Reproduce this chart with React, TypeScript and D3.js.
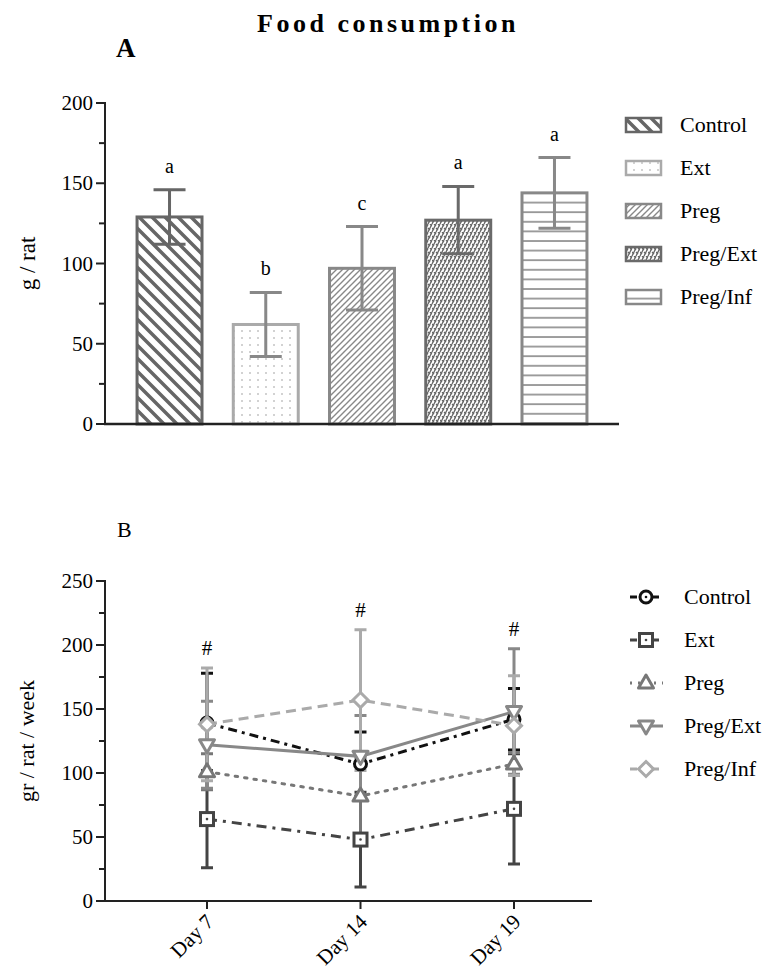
import React, { useEffect, useRef } from 'react';
import * as d3 from 'd3';

// Panel A: total food consumption per group
const groups = ['Control', 'Ext', 'Preg', 'Preg/Ext', 'Preg/Inf'];
const barMeans = [129, 62, 97, 127, 144];
const barErrors = [17, 20, 26, 21, 22];
const barLetters = ['a', 'b', 'c', 'a', 'a'];

// Panel B: weekly consumption
const days = ['Day 7', 'Day 14', 'Day 19'];
const controlMeans = [139, 107, 142];
const controlErrors = [39, 25, 24];
const extMeans = [64, 48, 72];
const extErrors = [38, 37, 43];
const pregMeans = [101, 82, 107];
const pregErrors = [14, 30, 9];
const pregExtMeans = [122, 113, 148];
const pregExtErrors = [34, 32, 49];
const pregInfMeans = [138, 157, 137];
const pregInfErrors = [44, 55, 39];
const dayMarks = ['#', '#', '#'];

const FONT = '"Liberation Serif", "Times New Roman", serif';

function App() {
  const svgRef = useRef<SVGSVGElement>(null);

  useEffect(() => {
    if (!svgRef.current) return;
    const svg = d3.select(svgRef.current);
    svg.selectAll('*').remove();
    svg.style('font-family', FONT);

    // ---------- patterns
    const defs = svg.append('defs');
    const pat = (id: string, w: number, h: number) =>
      defs.append('pattern').attr('id', id).attr('patternUnits', 'userSpaceOnUse')
        .attr('width', w).attr('height', h);

    pat('p-control', 13, 13).append('path')
      .attr('d', 'M0,0L13,13M-4,9L4,17M9,-4L17,4')
      .attr('stroke', '#666').attr('stroke-width', 3.5);
    const pe = pat('p-ext', 8, 7);
    pe.append('circle').attr('cx', 2).attr('cy', 2).attr('r', 0.8).attr('fill', '#999');
    pat('p-preg', 6, 6).append('path')
      .attr('d', 'M0,6L6,0M-1,1L1,-1M5,7L7,5')
      .attr('stroke', '#888').attr('stroke-width', 1.4);
    const pp = pat('p-pregext', 8, 8);
    pp.append('path').attr('d', 'M0,8L4,0M4,8L8,0M-1,2L0,0M8,8L9,6')
      .attr('stroke', '#666').attr('stroke-width', 1.3);
    pp.append('path').attr('d', 'M0,4L2,6M4,4L6,6M2,0L4,2M6,0L8,2')
      .attr('stroke', '#666').attr('stroke-width', 1.3);
    pat('p-preginf', 10, 9.6).append('path')
      .attr('d', 'M0,1L10,1')
      .attr('stroke', '#888').attr('stroke-width', 1.6);

    const barFill = ['url(#p-control)', 'url(#p-ext)', 'url(#p-preg)', 'url(#p-pregext)', 'url(#p-preginf)'];
    const barStroke = ['#666', '#aaa', '#888', '#6a6a6a', '#888'];

    // ---------- titles
    svg.append('text').attr('x', 388).attr('y', 32).attr('text-anchor', 'middle')
      .attr('font-weight', 'bold').attr('font-size', 26).attr('letter-spacing', 3.5)
      .text('Food consumption');
    svg.append('text').attr('x', 116).attr('y', 57).attr('font-weight', 'bold')
      .attr('font-size', 27).text('A');
    svg.append('text').attr('x', 117).attr('y', 537).attr('font-size', 22).text('B');

    // ---------- panel A
    const xA = d3.scaleBand<string>().domain(groups).range([105, 619])
      .paddingInner(0.325).paddingOuter(0.333);
    const yA = d3.scaleLinear().domain([0, 200]).range([424, 103]);

    const gA = svg.append('g');
    gA.selectAll('rect.bar').data(groups).join('rect')
      .attr('x', d => xA(d)!)
      .attr('y', (d, i) => yA(barMeans[i]))
      .attr('width', xA.bandwidth())
      .attr('height', (d, i) => yA(0) - yA(barMeans[i]))
      .attr('fill', (d, i) => barFill[i])
      .attr('stroke', (d, i) => barStroke[i])
      .attr('stroke-width', 3);

    groups.forEach((g, i) => {
      const cx = xA(g)! + xA.bandwidth() / 2;
      const top = yA(barMeans[i] + barErrors[i]);
      const bot = yA(barMeans[i] - barErrors[i]);
      const col = barStroke[i] === '#aaa' ? '#888' : barStroke[i];
      gA.append('path')
        .attr('d', `M${cx},${top}L${cx},${bot}M${cx - 16},${top}L${cx + 16},${top}M${cx - 16},${bot}L${cx + 16},${bot}`)
        .attr('stroke', col).attr('stroke-width', 3).attr('fill', 'none');
      gA.append('text').attr('x', cx).attr('y', top - 17).attr('text-anchor', 'middle')
        .attr('font-size', 20).text(barLetters[i]);
    });

    gA.append('line').attr('x1', 105).attr('x2', 105).attr('y1', yA(200) - 1).attr('y2', yA(0))
      .attr('stroke', '#222').attr('stroke-width', 2);
    d3.range(0, 201, 25).forEach(v => {
      const major = v % 50 === 0;
      gA.append('line').attr('x1', major ? 96 : 99).attr('x2', 105)
        .attr('y1', yA(v)).attr('y2', yA(v)).attr('stroke', '#222').attr('stroke-width', 2);
      if (major) gA.append('text').attr('x', 93).attr('y', yA(v) + 7).attr('text-anchor', 'end')
        .attr('font-size', 21).text(v);
    });
    gA.append('line').attr('x1', 104).attr('x2', 619).attr('y1', yA(0)).attr('y2', yA(0))
      .attr('stroke', '#222').attr('stroke-width', 2.5);
    gA.append('text').attr('transform', `translate(35,${yA(100)}) rotate(-90)`)
      .attr('text-anchor', 'middle').attr('font-size', 23).text('g / rat');

    // legend A
    groups.forEach((g, i) => {
      const y = 125 + i * 43;
      gA.append('rect').attr('x', 626).attr('y', y - 7).attr('width', 35).attr('height', 14)
        .attr('fill', barFill[i]).attr('stroke', barStroke[i]).attr('stroke-width', 2.5);
      gA.append('text').attr('x', 680).attr('y', y + 7).attr('font-size', 22).text(g);
    });

    // ---------- panel B
    const xB = d3.scalePoint<string>().domain(days).range([207, 514]);
    const yB = d3.scaleLinear().domain([0, 250]).range([901, 581]);
    const gB = svg.append('g');

    const series = [
      { name: 'Control', means: controlMeans, errs: controlErrors, color: '#111', dash: '9,5,3,5', sym: 'circle' },
      { name: 'Ext', means: extMeans, errs: extErrors, color: '#444', dash: '10,6,3,6', sym: 'square' },
      { name: 'Preg', means: pregMeans, errs: pregErrors, color: '#777', dash: '2.5,7', sym: 'up' },
      { name: 'Preg/Ext', means: pregExtMeans, errs: pregExtErrors, color: '#888', dash: null, sym: 'down' },
      { name: 'Preg/Inf', means: pregInfMeans, errs: pregInfErrors, color: '#aaa', dash: '10,6', sym: 'diamond' },
    ];

    const drawMarker = (g: any, sym: string, x: number, y: number, color: string) => {
      if (sym === 'circle') {
        g.append('circle').attr('cx', x).attr('cy', y).attr('r', 6).attr('fill', '#fff')
          .attr('stroke', color).attr('stroke-width', 3);
        g.append('circle').attr('cx', x).attr('cy', y).attr('r', 1.3).attr('fill', color);
      } else if (sym === 'square') {
        g.append('rect').attr('x', x - 6.5).attr('y', y - 6.5).attr('width', 13).attr('height', 13)
          .attr('fill', '#fff').attr('stroke', color).attr('stroke-width', 3);
        g.append('circle').attr('cx', x).attr('cy', y).attr('r', 1.3).attr('fill', color);
      } else if (sym === 'up') {
        g.append('path').attr('d', `M${x},${y - 8}L${x + 7.5},${y + 5}L${x - 7.5},${y + 5}Z`)
          .attr('fill', '#fff').attr('stroke', color).attr('stroke-width', 3).attr('stroke-linejoin', 'round');
      } else if (sym === 'down') {
        g.append('path').attr('d', `M${x},${y + 8}L${x + 7.5},${y - 5}L${x - 7.5},${y - 5}Z`)
          .attr('fill', '#fff').attr('stroke', color).attr('stroke-width', 3).attr('stroke-linejoin', 'round');
      } else {
        g.append('path').attr('d', `M${x},${y - 7.5}L${x + 7.5},${y}L${x},${y + 7.5}L${x - 7.5},${y}Z`)
          .attr('fill', '#fff').attr('stroke', color).attr('stroke-width', 3);
      }
    };

    // error bars
    series.forEach(s => {
      days.forEach((d, i) => {
        const cx = xB(d)!;
        const top = yB(s.means[i] + s.errs[i]);
        const bot = yB(s.means[i] - s.errs[i]);
        gB.append('path')
          .attr('d', `M${cx},${top}L${cx},${bot}M${cx - 6},${top}L${cx + 6},${top}M${cx - 6},${bot}L${cx + 6},${bot}`)
          .attr('stroke', s.color).attr('stroke-width', 3).attr('fill', 'none');
      });
    });

    // lines
    const line = d3.line<number>().x((v, i) => xB(days[i])!).y(v => yB(v));
    series.forEach(s => {
      gB.append('path').attr('d', line(s.means)).attr('fill', 'none')
        .attr('stroke', s.color).attr('stroke-width', 3)
        .attr('stroke-linecap', s.sym === 'up' ? 'round' : 'butt')
        .attr('stroke-dasharray', s.dash);
    });
    // markers
    series.forEach(s => {
      days.forEach((d, i) => drawMarker(gB, s.sym, xB(d)!, yB(s.means[i]), s.color));
    });

    // significance marks
    days.forEach((d, i) => {
      const top = d3.max(series, s => s.means[i] + s.errs[i])!;
      gB.append('text').attr('x', xB(d)!).attr('y', yB(top) - 13).attr('text-anchor', 'middle')
        .attr('font-size', 21).text(dayMarks[i]);
    });

    // axes B
    gB.append('line').attr('x1', 105).attr('x2', 105).attr('y1', yB(250) - 1).attr('y2', yB(0))
      .attr('stroke', '#222').attr('stroke-width', 2);
    d3.range(0, 251, 25).forEach(v => {
      const major = v % 50 === 0;
      gB.append('line').attr('x1', major ? 96 : 99).attr('x2', 105)
        .attr('y1', yB(v)).attr('y2', yB(v)).attr('stroke', '#222').attr('stroke-width', 2);
      if (major) gB.append('text').attr('x', 93).attr('y', yB(v) + 7).attr('text-anchor', 'end')
        .attr('font-size', 21).text(v);
    });
    gB.append('line').attr('x1', 104).attr('x2', 592).attr('y1', yB(0)).attr('y2', yB(0))
      .attr('stroke', '#222').attr('stroke-width', 2);
    days.forEach(d => {
      const x = xB(d)!;
      gB.append('line').attr('x1', x).attr('x2', x).attr('y1', yB(0)).attr('y2', yB(0) + 8)
        .attr('stroke', '#222').attr('stroke-width', 2);
      gB.append('text').attr('transform', `translate(${x + 8},${yB(0) + 22}) rotate(-45)`)
        .attr('text-anchor', 'end').attr('font-size', 21).text(d);
    });
    gB.append('text').attr('transform', `translate(34,${yB(125)}) rotate(-90)`)
      .attr('text-anchor', 'middle').attr('font-size', 22).text('gr / rat / week');

    // legend B
    series.forEach((s, i) => {
      const y = 597 + i * 43;
      gB.append('line').attr('x1', 630).attr('x2', 663).attr('y1', y).attr('y2', y)
        .attr('stroke', s.color).attr('stroke-width', 3)
        .attr('stroke-dasharray', s.dash ? (s.sym === 'up' ? '2,6' : '7,4') : null);
      drawMarker(gB, s.sym, 646, y, s.color);
      gB.append('text').attr('x', 684).attr('y', y + 7).attr('font-size', 22).text(s.name);
    });

    return () => { svg.selectAll('*').remove(); };
  }, []);

  return (
    <svg ref={svgRef} width={774} height={969}
      style={{ position: 'absolute', left: 0, top: 0, background: '#fff' }} />
  );
}

export default App;
